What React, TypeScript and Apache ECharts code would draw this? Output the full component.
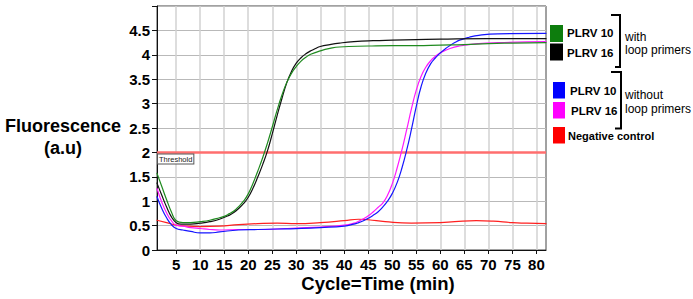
import React, { useEffect, useRef } from "react";
import * as echarts from "echarts";

const FONT = '"Liberation Sans", Arial, Helvetica, sans-serif';

// Axis ticks
const xTickValues = [5, 10, 15, 20, 25, 30, 35, 40, 45, 50, 55, 60, 65, 70, 75, 80];
const yTickValues = [0, 0.5, 1, 1.5, 2, 2.5, 3, 3.5, 4, 4.5];
const thresholdValue = 2;

// PLRV 10 with loop primers (green)
const green10X = [1, 2, 3, 4, 5, 6.4, 8, 10, 12, 14, 15, 16, 17, 18, 19, 20, 21, 22, 23, 24, 25, 26, 27, 28, 29, 30, 31, 32, 33, 35, 37, 39, 45, 50, 55, 60, 65, 70, 75, 82];
const green10Y = [1.57, 1.3, 1.03, 0.78, 0.6, 0.56, 0.56, 0.58, 0.61, 0.66, 0.69, 0.74, 0.8, 0.89, 1.0, 1.15, 1.37, 1.62, 1.89, 2.19, 2.52, 2.86, 3.17, 3.43, 3.62, 3.76, 3.87, 3.95, 4.01, 4.08, 4.13, 4.16, 4.18, 4.19, 4.19, 4.2, 4.21, 4.23, 4.24, 4.25];

// PLRV 16 with loop primers (black)
const black16X = [1, 2, 3, 4, 5, 6, 8, 10, 12, 14, 16, 17, 18, 19, 20, 21, 22, 23, 24, 25, 26, 27, 28, 29, 30, 31, 32, 33, 34, 35, 37, 39, 42, 46, 50, 55, 60, 70, 82];
const black16Y = [1.37, 1.12, 0.88, 0.68, 0.56, 0.53, 0.53, 0.55, 0.58, 0.63, 0.71, 0.77, 0.85, 0.95, 1.08, 1.27, 1.5, 1.75, 2.03, 2.38, 2.75, 3.1, 3.42, 3.66, 3.83, 3.94, 4.02, 4.08, 4.13, 4.17, 4.21, 4.24, 4.27, 4.29, 4.3, 4.31, 4.32, 4.33, 4.33];

// PLRV 10 without loop primers (blue)
const blue10X = [1, 2, 3, 4, 5, 6.4, 8, 10, 12, 14, 18, 22, 26, 30, 35, 40, 42, 43, 44, 45, 46, 47, 48, 49, 50, 51, 52, 53, 54, 55, 56, 57, 58, 59, 60, 61, 62, 63, 64, 66, 68, 72, 82];
const blue10Y = [1.09, 0.85, 0.66, 0.52, 0.44, 0.41, 0.38, 0.35, 0.35, 0.37, 0.41, 0.42, 0.43, 0.44, 0.46, 0.49, 0.53, 0.56, 0.6, 0.65, 0.71, 0.78, 0.88, 1.0, 1.16, 1.38, 1.68, 2.05, 2.48, 2.95, 3.35, 3.63, 3.82, 3.94, 4.04, 4.12, 4.19, 4.25, 4.3, 4.36, 4.4, 4.43, 4.44];

// PLRV 16 without loop primers (magenta)
const magenta16X = [1, 2, 3, 4, 5, 6.4, 8, 10, 12, 14, 18, 22, 26, 30, 35, 40, 42, 43, 44, 45, 46, 47, 48, 49, 50, 51, 52, 53, 54, 55, 56, 57, 58, 59, 60, 62, 64, 68, 72, 82];
const magenta16Y = [1.26, 0.98, 0.76, 0.6, 0.51, 0.49, 0.46, 0.44, 0.42, 0.41, 0.42, 0.42, 0.43, 0.45, 0.47, 0.51, 0.55, 0.59, 0.64, 0.7, 0.78, 0.87, 0.96, 1.12, 1.36, 1.68, 2.05, 2.47, 2.9, 3.28, 3.56, 3.75, 3.88, 3.97, 4.04, 4.13, 4.18, 4.23, 4.25, 4.27];

// Negative control (red)
const negX = [1, 3, 5, 7, 10, 14, 18, 22, 26, 30, 35, 40, 43, 45, 48.5, 54, 60, 63, 67.5, 71, 75, 78, 82];
const negY = [0.61, 0.56, 0.51, 0.49, 0.48, 0.49, 0.52, 0.54, 0.55, 0.54, 0.56, 0.6, 0.63, 0.62, 0.58, 0.55, 0.56, 0.58, 0.6, 0.59, 0.56, 0.55, 0.54];

const seriesNames = ["PLRV 10 (loop)", "PLRV 16 (loop)", "PLRV 10", "PLRV 16", "Negative control"];
const seriesColors = ["#1f8a1f", "#111111", "#1515ff", "#ff18ff", "#ff2020"];
const seriesX = [green10X, black16X, blue10X, magenta16X, negX];
const seriesY = [green10Y, black16Y, blue10Y, magenta16Y, negY];

const legendLabels = ["PLRV 10", "PLRV 16", "PLRV 10", "PLRV 16", "Negative control"];
const legendColors = ["#0d7d0d", "#000000", "#0000ff", "#ff00ff", "#ff0000"];

export default function App() {
  const ref = useRef<HTMLDivElement>(null);

  useEffect(() => {
    document.body.style.margin = "0";
    if (!ref.current) return;
    const chart = echarts.init(ref.current, undefined, { renderer: "svg" });

    const series: any[] = seriesNames.map((name, i) => ({
      name,
      type: "line",
      data: seriesX[i].map((x, j) => [x, seriesY[i][j]]),
      showSymbol: false,
      smooth: 0.5,
      z: 3 + (4 - i),
      lineStyle: { color: seriesColors[i], width: 1.2, cap: "round", join: "round" },
      itemStyle: { color: seriesColors[i] },
    }));

    series[4].markLine = {
      silent: true,
      symbol: "none",
      z: 1,
      lineStyle: { color: "#ff6e6e", width: 2.5, type: "solid" },
      label: {
        show: true,
        position: "insideStartBottom",
        formatter: "Threshold",
        fontFamily: FONT,
        fontSize: 7.5,
        color: "#222",
        borderColor: "#555",
        borderWidth: 1,
        backgroundColor: "#fff",
        padding: [1, 1, 0, 1],
        distance: [1, 2],
      },
      data: [{ yAxis: thresholdValue }],
    };

    const legendRects = [
      { x: 550, y: 25, w: 13, h: 17 },
      { x: 550, y: 43.5, w: 13, h: 17 },
      { x: 553, y: 82, w: 12, h: 16.5 },
      { x: 553, y: 102, w: 12, h: 16.5 },
      { x: 553, y: 127, w: 12, h: 16.5 },
    ];
    const legendTextPos = [
      { x: 567, y: 32.5 },
      { x: 567, y: 52.5 },
      { x: 570, y: 90.5 },
      { x: 571, y: 110.5 },
      { x: 568, y: 136 },
    ];

    const graphic: any[] = [];
    legendLabels.forEach((label, i) => {
      graphic.push({
        type: "rect",
        shape: { x: legendRects[i].x, y: legendRects[i].y, width: legendRects[i].w, height: legendRects[i].h },
        style: { fill: legendColors[i] },
      });
      graphic.push({
        type: "text",
        x: legendTextPos[i].x,
        y: legendTextPos[i].y,
        style: {
          text: label,
          fontFamily: FONT,
          fontWeight: "bold",
          fontSize: i === 4 ? 11 : 11.5,
          fill: "#000",
          textVerticalAlign: "middle",
          textAlign: "left",
        },
      });
    });
    graphic.push(
      {
        type: "polyline",
        shape: { points: [[611, 15], [620, 15], [620, 67], [615, 67]] },
        style: { stroke: "#000", lineWidth: 2, fill: "none" },
      },
      {
        type: "polyline",
        shape: { points: [[611, 72], [621, 72], [621, 128.5], [615, 128.5]] },
        style: { stroke: "#000", lineWidth: 2, fill: "none" },
      },
      {
        type: "text",
        x: 625,
        y: 43.5,
        style: {
          text: "with\nloop primers",
          fontFamily: FONT,
          fontSize: 12,
          lineHeight: 13.5,
          fill: "#000",
          textVerticalAlign: "middle",
          textAlign: "left",
        },
      },
      {
        type: "text",
        x: 625,
        y: 102,
        style: {
          text: "without\nloop primers",
          fontFamily: FONT,
          fontSize: 12,
          lineHeight: 14,
          fill: "#000",
          textVerticalAlign: "middle",
          textAlign: "left",
        },
      },
      {
        type: "text",
        x: 63,
        y: 137,
        style: {
          text: "Fluorescence\n(a.u)",
          fontFamily: FONT,
          fontWeight: "bold",
          fontSize: 18,
          lineHeight: 22,
          fill: "#000",
          textAlign: "center",
          textVerticalAlign: "middle",
        },
      },
      {
        type: "text",
        x: 378,
        y: 283,
        style: {
          text: "Cycle=Time (min)",
          fontFamily: FONT,
          fontWeight: "bold",
          fontSize: 18.5,
          fill: "#000",
          textAlign: "center",
          textVerticalAlign: "middle",
        },
      }
    );

    chart.setOption({
      animation: false,
      backgroundColor: "#fff",
      grid: {
        left: 157,
        right: 693 - 546,
        top: 6,
        bottom: 299 - 250,
        show: true,
        borderColor: "#444",
        borderWidth: 1,
        backgroundColor: "#fff",
      },
      xAxis: {
        type: "value",
        min: 1,
        max: 82,
        axisLine: { show: true, onZero: false, lineStyle: { color: "#111", width: 1 } },
        axisTick: { show: true, customValues: xTickValues, length: 4, lineStyle: { color: "#111" } },
        axisLabel: {
          customValues: xTickValues,
          fontFamily: FONT,
          fontWeight: "bold",
          fontSize: 15,
          color: "#000",
          margin: 7,
        },
        splitLine: { show: true, customValues: xTickValues, lineStyle: { color: "#d2d2d2", width: 1.5 } },
      },
      yAxis: {
        type: "value",
        min: 0,
        max: 5,
        interval: 0.5,
        axisLine: { show: true, lineStyle: { color: "#111", width: 1 } },
        axisTick: { show: true, length: 5, lineStyle: { color: "#111" } },
        axisLabel: {
          customValues: yTickValues,
          fontFamily: FONT,
          fontWeight: "bold",
          fontSize: 15,
          color: "#000",
          margin: 7,
          formatter: (v: number) => String(v),
        },
        splitLine: { show: true, lineStyle: { color: "#b9b9b9", width: 1 } },
      },
      series,
      graphic,
    });

    return () => chart.dispose();
  }, []);

  return <div ref={ref} style={{ width: 693, height: 299 }} />;
}
